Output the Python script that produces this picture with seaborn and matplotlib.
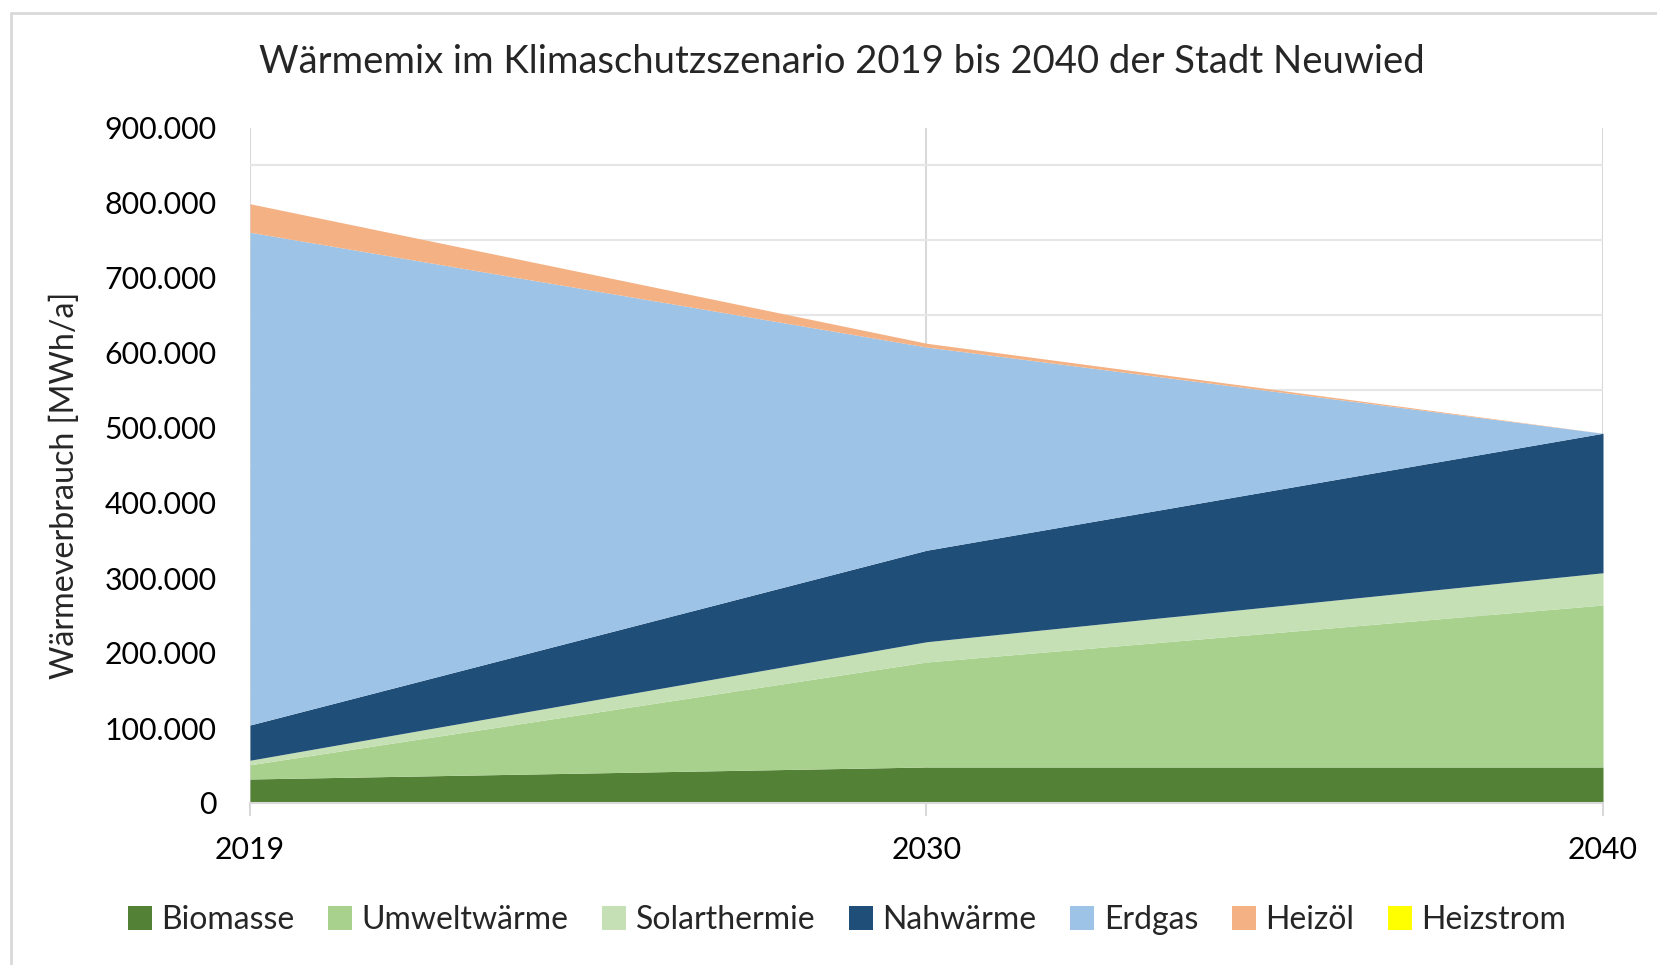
import matplotlib
matplotlib.use("Agg")
import matplotlib.pyplot as plt
import seaborn as sns
import numpy as np
from matplotlib.patches import Rectangle, Patch
from matplotlib.ticker import FuncFormatter, FixedLocator

years = ["2019", "2030", "2040"]
series_names = ["Biomasse", "Umweltwärme", "Solarthermie", "Nahwärme", "Erdgas", "Heizöl", "Heizstrom"]
biomasse = [32000, 48000, 48000]
umweltwaerme = [19000, 140000, 216000]
solarthermie = [6000, 27000, 43000]
nahwaerme = [47000, 122000, 186000]
erdgas = [657000, 271000, 0]
heizoel = [38000, 5000, 0]
heizstrom = [0, 0, 0]
colors = ["#538135", "#a9d18e", "#c5e0b4", "#1f4e79", "#9dc3e6", "#f4b183", "#ffff00"]
yticks = [0, 100000, 200000, 300000, 400000, 500000, 600000, 700000, 800000, 900000]

sns.set_theme(style="white")
plt.rcParams['font.family'] = ['Lato', 'DejaVu Sans']

fig = plt.figure(figsize=(16.58, 9.65), dpi=100)
ax = fig.add_axes([250 / 1658, 1 - 803 / 965, (1603 - 250) / 1658, 675 / 965])

xpos = np.arange(len(years))
ax.stackplot(xpos, biomasse, umweltwaerme, solarthermie, nahwaerme, erdgas, heizoel, heizstrom,
             colors=colors, labels=series_names, linewidth=0, zorder=2)

ax.set_xlim(0, len(years) - 1)
ax.set_ylim(0, 900000)
ax.set_yticks(yticks)
ax.yaxis.set_minor_locator(FixedLocator([v + 50000 for v in yticks[1:-1]] + [850000]))
ax.set_xticks(xpos)
ax.set_xticklabels(years)
ax.yaxis.set_major_formatter(FuncFormatter(lambda v, p: "0" if v == 0 else f"{int(v):,}".replace(",", ".")))
ax.grid(False)
ax.grid(True, axis="y", which="minor", color="#e6e6e6", linewidth=1.5, zorder=0)
ax.grid(True, axis="x", which="major", color="#d9d9d9", linewidth=1.5, zorder=0)
ax.set_axisbelow(True)
for s in ["top", "right", "left"]:
    ax.spines[s].set_visible(False)
ax.spines["bottom"].set_color("#d9d9d9")
ax.spines["bottom"].set_linewidth(1.5)
ax.tick_params(axis="y", which="both", labelsize=21.8, colors="#000000", length=0, pad=24)
ax.tick_params(axis="x", labelsize=21.8, labelcolor="#000000", color="#d9d9d9", length=9, width=1.5,
               direction="out", pad=15, bottom=True)
ax.set_ylabel("Wärmeverbrauch [MWh/a]", fontsize=23.2)
ax.yaxis.set_label_coords(-(250 - 80) / 1353, 0.47)

fig.text(842 / 1658, 1 - 62 / 965, "Wärmemix im Klimaschutzszenario 2019 bis 2040 der Stadt Neuwied",
         ha="center", va="center", fontsize=27.5)

handles = [Patch(facecolor=c, edgecolor="none") for c in colors]
fig.legend(handles, series_names, loc="center", bbox_to_anchor=(847 / 1658, 1 - 920 / 965), ncol=7,
           frameon=False, fontsize=23, handlelength=0.75, handleheight=0.75, handletextpad=0.3,
           columnspacing=1.05, borderpad=0)

fig.patches.append(Rectangle((11 / 1658, -0.1), 1.2, 1.1 - 13 / 965, transform=fig.transFigure,
                             fill=False, edgecolor="#d9d9d9", linewidth=2))

fig.savefig("out.png", dpi=100)
